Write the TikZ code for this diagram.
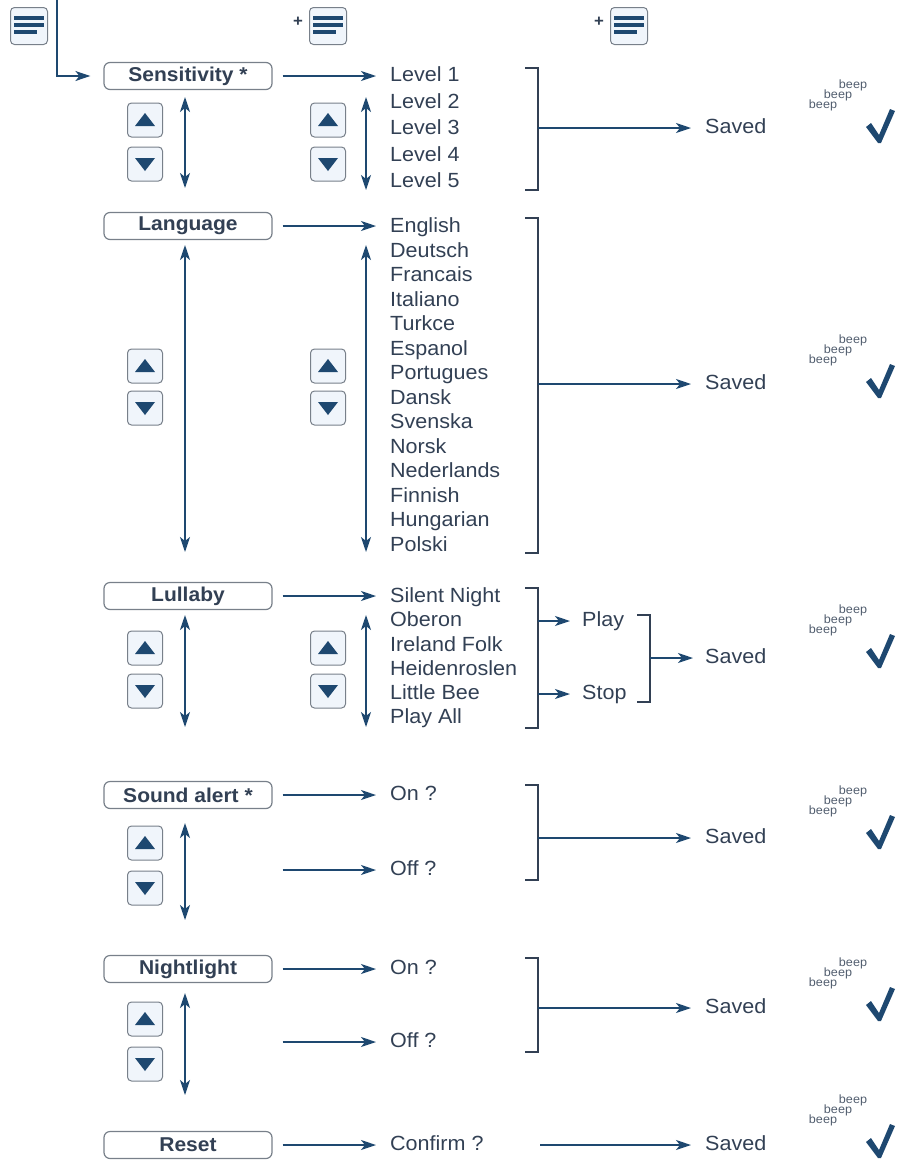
\documentclass[tikz,border=0pt]{standalone}
\usepackage{fontspec}
\setmainfont{Liberation Sans}[FakeStretch=1.05]
\usetikzlibrary{arrows.meta,matrix,positioning}

\definecolor{appblue}{RGB}{30,72,112}
\definecolor{inkgray}{RGB}{50,64,84}
\definecolor{framegray}{RGB}{120,128,138}
\definecolor{keyfill}{RGB}{240,245,251}

\tikzset{
  menubox/.style={draw=framegray, line width=1.2pt, rounded corners=6pt, fill=white,
                  minimum width=168pt, minimum height=27pt, inner sep=0pt,
                  font=\fontsize{20}{24}\selectfont\bfseries, text=inkgray},
  entry/.style={anchor=west, inner sep=0pt, text height=15pt, text depth=4pt,
                text=inkgray, font=\fontsize{20.5}{24}\selectfont},
  list/.style={matrix of nodes, nodes={entry}, inner sep=0pt, anchor=north west},
  plussign/.style={inner sep=0pt, text=inkgray, font=\fontsize{16}{16}\selectfont\bfseries},
  link/.style={draw=appblue, line width=1.6pt, shorten <=10pt, shorten >=14pt,
               -{Stealth[length=15pt,width=10pt,inset=4pt]}},
  scroll/.style={draw=appblue, line width=1.6pt,
                 {Stealth[length=15pt,width=10pt,inset=4pt]}-{Stealth[length=15pt,width=10pt,inset=4pt]}},
  bracket/.style={draw=inkgray, line width=1.4pt},
  keybox/.style={draw=framegray, line width=1pt, rounded corners=4pt, fill=keyfill,
                 minimum width=35pt, minimum height=34pt, inner sep=0pt},
  beeptext/.style={inner sep=0pt, text=inkgray!85, font=\fontsize{12}{12}\selectfont},
  pics/menuicon/.style={code={
      \node[keybox, minimum width=37pt, minimum height=37pt] (-frame) {};
      \fill[appblue] (-15,-10) rectangle (15,-6.5);
      \fill[appblue] (-15,-3) rectangle (15,0.5);
      \fill[appblue] (-15,4) rectangle (8,7.5);
  }},
  pics/upkey/.style={code={
      \node[keybox] (-frame) {};
      \fill[appblue] (-10,6) -- (10,6) -- (0,-7) -- cycle;
  }},
  pics/downkey/.style={code={
      \node[keybox] (-frame) {};
      \fill[appblue] (-10,-6) -- (10,-6) -- (0,7) -- cycle;
  }},
  pics/savedok/.style={code={
      \node[beeptext] (-b1) at (3,-15) {beep};
      \node[beeptext] (-b2) at (-12,-5) {beep};
      \node[beeptext] (-b3) at (-27,5) {beep};
      \fill[appblue] (16,27) -- (21,23) -- (29,35) -- (40,9) -- (45,11)
                     -- (31,43) -- (28,43) -- cycle;
  }},
}

\begin{document}
\begin{tikzpicture}[x=1pt, y=-1pt]
  \useasboundingbox (0,0) rectangle (899,1160);

  % menu buttons on top
  \pic (home) at (29,26) {menuicon};
  \node[plussign] (plusA) at (298,22) {+};
  \pic (menuA) at (328,26) {menuicon};
  \node[plussign] (plusB) at (599,22) {+};
  \pic (menuB) at (629,26) {menuicon};
  \coordinate (entry) at (57,0);

  % Sensitivity
  \node[menubox] (sens) at (188,76) {Sensitivity *};
  \draw[link, shorten <=0pt, shorten >=13pt] (entry) |- (sens.west);
  \matrix[list, row sep=7.5pt] (levels) at (390,66.5) {
    Level 1 \\ Level 2 \\ Level 3 \\ Level 4 \\ Level 5 \\
  };
  \draw[link] (sens.east) -- (sens.east -| levels-1-1.west);
  \draw[scroll] (185,97) -- (185,188);
  \draw[scroll] (366,97) -- (366,190);
  \pic (sensup) at (145,120) {upkey};
  \pic (sensdown) at (145,164) {downkey};
  \pic (levelup) at (328,120) {upkey};
  \pic (leveldown) at (328,164) {downkey};
  \draw[bracket] (525,68) -- (538,68) -- (538,190) -- (525,190);
  \coordinate (sensmid) at (538,128);
  \node[entry] (saved1) at (705,128) {Saved};
  \draw[link, shorten <=0pt] (sensmid) -- (saved1.west);
  \pic (ok1) at (850,100) {savedok};

  % Language
  \node[menubox] (lang) at (188,226) {Language};
  \matrix[list, row sep=5.5pt] (langs) at (390,217.5) {
    English \\ Deutsch \\ Francais \\ Italiano \\ Turkce \\ Espanol \\ Portugues \\
    Dansk \\ Svenska \\ Norsk \\ Nederlands \\ Finnish \\ Hungarian \\ Polski \\
  };
  \draw[link] (lang.east) -- (lang.east -| langs-1-1.west);
  \draw[scroll] (185,245) -- (185,552);
  \draw[scroll] (366,245) -- (366,552);
  \pic (langup) at (145,366) {upkey};
  \pic (langdown) at (145,408) {downkey};
  \pic (langsup) at (328,366) {upkey};
  \pic (langsdown) at (328,408) {downkey};
  \draw[bracket] (525,218) -- (538,218) -- (538,553) -- (525,553);
  \coordinate (langmid) at (538,384);
  \node[entry] (saved2) at (705,384) {Saved};
  \draw[link, shorten <=0pt] (langmid) -- (saved2.west);
  \pic (ok2) at (850,355) {savedok};

  % Lullaby
  \node[menubox] (lull) at (188,596) {Lullaby};
  \matrix[list, row sep=5.2pt] (songs) at (390,587.5) {
    Silent Night \\ Oberon \\ Ireland Folk \\ Heidenroslen \\ Little Bee \\ Play All \\
  };
  \draw[link] (lull.east) -- (lull.east -| songs-1-1.west);
  \draw[scroll] (185,615) -- (185,727);
  \draw[scroll] (366,615) -- (366,727);
  \pic (lullup) at (145,648) {upkey};
  \pic (lulldown) at (145,691) {downkey};
  \pic (songup) at (328,648) {upkey};
  \pic (songdown) at (328,691) {downkey};
  \draw[bracket] (525,588) -- (538,588) -- (538,728) -- (525,728);
  \coordinate (songedge) at (538,657);
  \node[entry] (play) at (582,621) {Play};
  \node[entry] (stop) at (582,694) {Stop};
  \draw[link, shorten <=0pt, shorten >=12pt] (play.west -| songedge) -- (play.west);
  \draw[link, shorten <=0pt, shorten >=12pt] (stop.west -| songedge) -- (stop.west);
  \draw[bracket] (637,615) -- (650,615) -- (650,702) -- (637,702);
  \coordinate (playmid) at (650,658);
  \node[entry] (saved3) at (705,658) {Saved};
  \draw[link, shorten <=0pt, shorten >=12pt] (playmid) -- (saved3.west);
  \pic (ok3) at (850,625) {savedok};

  % Sound alert
  \node[menubox] (alert) at (188,795) {Sound alert *};
  \node[entry] (alerton) at (390,795) {On ?};
  \node[entry] (alertoff) at (390,870) {Off ?};
  \draw[link] (alert.east) -- (alerton.west);
  \draw[link] (alertoff.west -| alert.east) -- (alertoff.west);
  \draw[scroll] (185,823) -- (185,920);
  \pic (alertup) at (145,843) {upkey};
  \pic (alertdown) at (145,888) {downkey};
  \draw[bracket] (525,785) -- (538,785) -- (538,880) -- (525,880);
  \coordinate (alertmid) at (538,838);
  \node[entry] (saved4) at (705,838) {Saved};
  \draw[link, shorten <=0pt] (alertmid) -- (saved4.west);
  \pic (ok4) at (850,806) {savedok};

  % Nightlight
  \node[menubox] (night) at (188,969) {Nightlight};
  \node[entry] (nighton) at (390,969) {On ?};
  \node[entry] (nightoff) at (390,1042) {Off ?};
  \draw[link] (night.east) -- (nighton.west);
  \draw[link] (nightoff.west -| night.east) -- (nightoff.west);
  \draw[scroll] (185,993) -- (185,1095);
  \pic (nightup) at (145,1019) {upkey};
  \pic (nightdown) at (145,1064) {downkey};
  \draw[bracket] (525,958) -- (538,958) -- (538,1052) -- (525,1052);
  \coordinate (nightmid) at (538,1008);
  \node[entry] (saved5) at (705,1008) {Saved};
  \draw[link, shorten <=0pt] (nightmid) -- (saved5.west);
  \pic (ok5) at (850,978) {savedok};

  % Reset
  \node[menubox] (reset) at (188,1145) {Reset};
  \node[entry] (confirm) at (390,1145) {Confirm ?};
  \draw[link] (reset.east) -- (confirm.west);
  \coordinate (confirmend) at (540,1145);
  \node[entry] (saved6) at (705,1145) {Saved};
  \draw[link, shorten <=0pt] (confirmend) -- (saved6.west);
  \pic (ok6) at (850,1115) {savedok};
\end{tikzpicture}
\end{document}
